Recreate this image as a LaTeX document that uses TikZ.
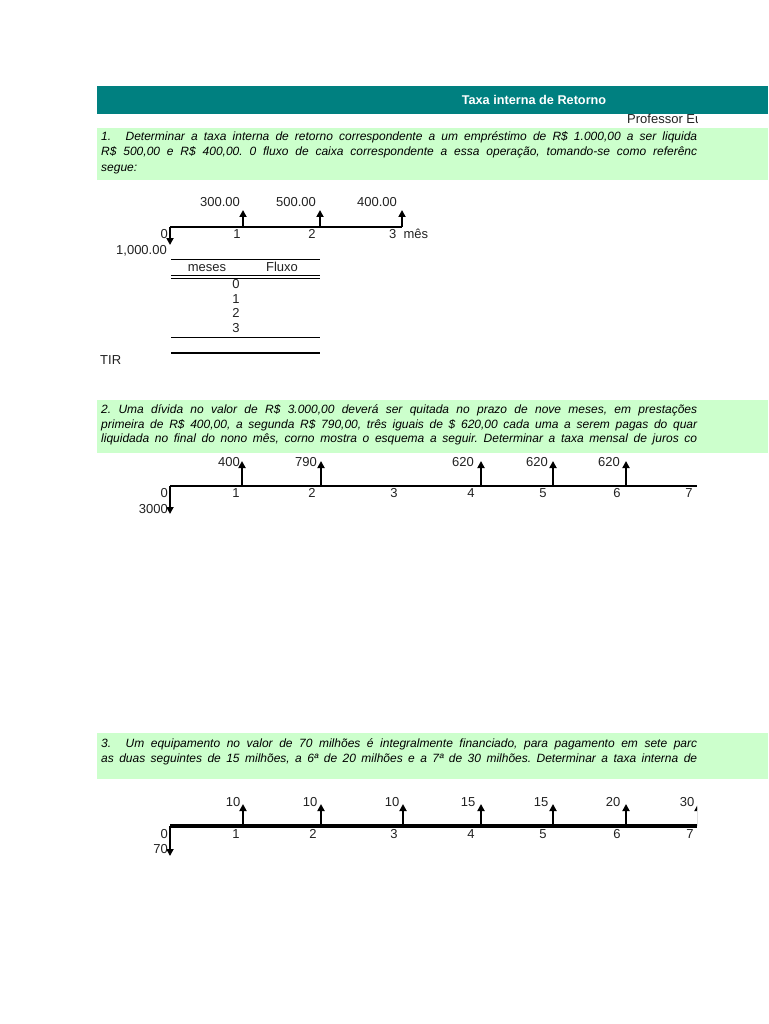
\documentclass[tikz,border=0pt]{standalone}
\usepackage{fontspec}
\setmainfont{Liberation Sans}
\usetikzlibrary{arrows.meta}
\definecolor{teal}{HTML}{008080}
\definecolor{paleg}{HTML}{CCFFCC}
\definecolor{ink}{HTML}{222222}
\tikzset{
  lbl/.style={inner sep=0pt, anchor=base, text=ink, font=\fontsize{13}{15}\selectfont},
  ptxt/.style={inner sep=0pt, anchor=base west, text=black, font=\fontsize{12}{14}\selectfont\itshape\frenchspacing},
  flow/.style={line width=2pt, -{Triangle[length=7pt,width=7pt]}},
  axis1/.style={line width=2pt},
  axis3/.style={line width=3.5pt},
  band/.style={fill=paleg, draw=none},
}
\newcommand{\sline}[1]{\makebox[596pt][s]{#1}}
\begin{document}
\begin{tikzpicture}[x=1pt,y=-1pt]
\useasboundingbox (0,0) rectangle (768,1024);
\fill[white] (0,0) rectangle (768,1024);
% header
\fill[teal] (97,86) rectangle (768,114);
\node[inner sep=0pt, text=white, font=\fontsize{12.7}{14}\selectfont\bfseries] (title) at (534,100) {Taxa interna de Retorno};
% green bands
\fill[band] (97,128) rectangle (768,180);
\fill[band] (97,400) rectangle (768,453);
\fill[band] (97,733) rectangle (768,779);
\begin{scope}
\clip (0,0) rectangle (697,1024);
\node[lbl, anchor=base west] (prof) at (627,124) {Professor Eu};
% problem 1
\node[ptxt] (p1a) at (101,141) {\sline{1.\hspace{1.2em}Determinar a taxa interna de retorno correspondente a um empréstimo de R\$ 1.000,00 a ser liquida}};
\node[ptxt] (p1b) at (101,156) {\sline{R\$ 500,00 e R\$ 400,00. 0 fluxo de caixa correspondente a essa operação, tomando-se como referênc}};
\node[ptxt] (p1c) at (101,172) {segue:};
% problem 2
\node[ptxt] (p2a) at (101,413) {\sline{2. Uma dívida no valor de R\$ 3.000,00 deverá ser quitada no prazo de nove meses, em prestações}};
\node[ptxt] (p2b) at (101,428) {\sline{primeira de R\$ 400,00, a segunda R\$ 790,00, três iguais de \$ 620,00 cada uma a serem pagas do quar}};
\node[ptxt] (p2c) at (101,442) {\sline{liquidada no final do nono mês, corno mostra o esquema a seguir. Determinar a taxa mensal de juros co}};
% problem 3
\node[ptxt] (p3a) at (101,747) {\sline{3.\hspace{1.2em}Um equipamento no valor de 70 milhões é integralmente financiado, para pagamento em sete parc}};
\node[ptxt] (p3b) at (101,762) {\sline{as duas seguintes de 15 milhões, a 6ª de 20 milhões e a 7ª de 30 milhões. Determinar a taxa interna de}};

% ---------- timeline 1
\coordinate (a0) at (170,227);
\coordinate (aE) at (402,227);
\draw[axis1] (a0) -- (aE);
\coordinate (a1) at (243,227); \coordinate (a1t) at (243,210);
\coordinate (a2) at (320,227); \coordinate (a2t) at (320,210);
\coordinate (a3) at (402,227); \coordinate (a3t) at (402,210);
\coordinate (a0d) at (170,245);
\draw[flow] (a1) -- (a1t);
\draw[flow] (a2) -- (a2t);
\draw[flow] (a3) -- (a3t);
\draw[flow] (a0) -- (a0d);
\node[lbl] (v11) at (220,207) {300.00};
\node[lbl] (v12) at (296,207) {500.00};
\node[lbl] (v13) at (377,207) {400.00};
\node[lbl, anchor=base east] (n10) at (168,238) {0};
\node[lbl] (n11) at (237,238) {1};
\node[lbl] (n12) at (312,238) {2};
\node[lbl, anchor=base west] (n13) at (389,238) {3\ \ mês};
\node[lbl, anchor=base east] (v10) at (167,254) {1,000.00};
% table
\draw[line width=0.8pt] (171,259) -- (320,259);
\node[lbl] (hm) at (207,271) {meses};
\node[lbl] (hf) at (282,271) {Fluxo};
\draw[line width=0.8pt] (171,275.5) -- (320,275.5);
\draw[line width=0.8pt] (171,278.5) -- (320,278.5);
\node[lbl] (r0) at (236,288) {0};
\node[lbl] (r1) at (236,303) {1};
\node[lbl] (r2) at (236,317) {2};
\node[lbl] (r3) at (236,332) {3};
\draw[line width=0.9pt] (171,337) -- (320,337);
\draw[line width=2.5pt] (171,353) -- (320,353);
\node[lbl, anchor=base west] (tir) at (100,364) {TIR};

% ---------- timeline 2
\coordinate (b0) at (170,486);
\coordinate (bE) at (697,486);
\draw[axis1] (b0) -- (bE);
\coordinate (b1) at (242,486); \coordinate (b1t) at (242,461);
\coordinate (b2) at (321,486); \coordinate (b2t) at (321,461);
\coordinate (b4) at (481,486); \coordinate (b4t) at (481,461);
\coordinate (b5) at (553,486); \coordinate (b5t) at (553,461);
\coordinate (b6) at (626,486); \coordinate (b6t) at (626,461);
\coordinate (b0d) at (170,514);
\draw[flow] (b1) -- (b1t);
\draw[flow] (b2) -- (b2t);
\draw[flow] (b4) -- (b4t);
\draw[flow] (b5) -- (b5t);
\draw[flow] (b6) -- (b6t);
\draw[flow] (b0) -- (b0d);
\node[lbl] (w1) at (229,466) {400};
\node[lbl] (w2) at (306,466) {790};
\node[lbl] (w4) at (463,466) {620};
\node[lbl] (w5) at (537,466) {620};
\node[lbl] (w6) at (609,466) {620};
\node[lbl, anchor=base east] (m0) at (168,497) {0};
\node[lbl] (m1) at (236,497) {1};
\node[lbl] (m2) at (312,497) {2};
\node[lbl] (m3) at (394,497) {3};
\node[lbl] (m4) at (471,497) {4};
\node[lbl] (m5) at (543,497) {5};
\node[lbl] (m6) at (617,497) {6};
\node[lbl] (m7) at (689,497) {7};
\node[lbl, anchor=base east] (w0) at (168,513) {3000};

% ---------- timeline 3
\coordinate (c0) at (170,826);
\coordinate (cE) at (697,826);
\draw[axis3] (c0) -- (cE);
\coordinate (c1) at (243,826); \coordinate (c1t) at (243,804);
\coordinate (c2) at (321,826); \coordinate (c2t) at (321,804);
\coordinate (c3) at (403,826); \coordinate (c3t) at (403,804);
\coordinate (c4) at (481,826); \coordinate (c4t) at (481,804);
\coordinate (c5) at (553,826); \coordinate (c5t) at (553,804);
\coordinate (c6) at (626,826); \coordinate (c6t) at (626,804);
\coordinate (c7) at (698,826); \coordinate (c7t) at (698,804);
\coordinate (c0d) at (170,856);
\draw[flow] (c1) -- (c1t);
\draw[flow] (c2) -- (c2t);
\draw[flow] (c3) -- (c3t);
\draw[flow] (c4) -- (c4t);
\draw[flow] (c5) -- (c5t);
\draw[flow] (c6) -- (c6t);
\draw[flow] (c7) -- (c7t);
\draw[flow] (c0) -- (c0d);
\node[lbl] (u1) at (233,806) {10};
\node[lbl] (u2) at (310,806) {10};
\node[lbl] (u3) at (392,806) {10};
\node[lbl] (u4) at (468,806) {15};
\node[lbl] (u5) at (541,806) {15};
\node[lbl] (u6) at (613,806) {20};
\node[lbl] (u7) at (687,806) {30};
\node[lbl, anchor=base east] (k0) at (168,838) {0};
\node[lbl] (k1) at (236,838) {1};
\node[lbl] (k2) at (313,838) {2};
\node[lbl] (k3) at (394,838) {3};
\node[lbl] (k4) at (471,838) {4};
\node[lbl] (k5) at (543,838) {5};
\node[lbl] (k6) at (617,838) {6};
\node[lbl] (k7) at (690,838) {7};
\node[lbl, anchor=base east] (u0) at (168,853) {70};
\end{scope}
\end{tikzpicture}
\end{document}
